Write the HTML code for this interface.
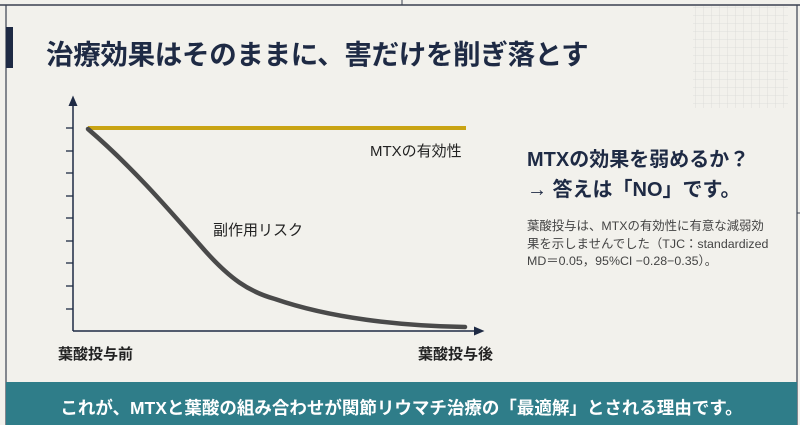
<!DOCTYPE html>
<html><head><meta charset="utf-8"><style>
body{margin:0;width:800px;height:425px;overflow:hidden;background:#f2f1ec;font-family:"Liberation Sans","Noto Sans CJK JP",sans-serif;position:relative}
.a{position:absolute;white-space:nowrap}
</style></head><body>
<svg class="a" style="left:0;top:0" width="800" height="425">
<defs><pattern id="g" width="8" height="8" patternUnits="userSpaceOnUse"><path d="M8 0V8M0 8H8" stroke="#d9d9d6" stroke-width="0.8" fill="none"/></pattern>
<marker id="ar" markerWidth="8" markerHeight="8" refX="4" refY="4" orient="auto"><path d="M0,1 L7,4 L0,7z" fill="#1e2a44"/></marker></defs>
<rect x="693" y="6" width="95" height="102" fill="url(#g)"/>
<line x1="0" y1="5" x2="800" y2="5" stroke="#3a4150" stroke-width="1.5"/>
<line x1="6" y1="5" x2="6" y2="425" stroke="#3a4150" stroke-width="1.2"/>
<line x1="402" y1="0" x2="402" y2="5" stroke="#3a4150" stroke-width="1"/>
<line x1="797" y1="5" x2="797" y2="425" stroke="#3a4150" stroke-width="1.2"/>
<line x1="797" y1="213" x2="800" y2="213" stroke="#3a4150" stroke-width="1"/>
<rect x="6" y="27" width="7" height="41" fill="#1e2a44"/>
<line x1="73" y1="331" x2="73" y2="100" stroke="#1e2a44" stroke-width="1.5" marker-end="url(#ar)"/>
<line x1="73" y1="331" x2="480" y2="331" stroke="#1e2a44" stroke-width="1.5" marker-end="url(#ar)"/>
<g stroke="#1e2a44" stroke-width="1.3"><line x1="66" x2="73" y1="128" y2="128"/><line x1="66" x2="73" y1="151" y2="151"/><line x1="66" x2="73" y1="173" y2="173"/><line x1="66" x2="73" y1="196" y2="196"/><line x1="66" x2="73" y1="218" y2="218"/><line x1="66" x2="73" y1="241" y2="241"/><line x1="66" x2="73" y1="263" y2="263"/><line x1="66" x2="73" y1="286" y2="286"/><line x1="66" x2="73" y1="309" y2="309"/></g>
<line x1="88" y1="128" x2="466" y2="128" stroke="#c9a414" stroke-width="4"/>
<path d="M88,129 C130,165 165,205 200,245 C230,280 250,292 275,299 C330,318 400,326 465,327" stroke="#4a4a4a" stroke-width="4.5" fill="none" stroke-linecap="round"/>
<rect x="6" y="382" width="791" height="43" fill="#2f7d89"/>
</svg>
<div class="a" style="left:46px;top:32px;font-size:27.5px;font-weight:bold;color:#1e2a44;letter-spacing:-0.3px">治療効果はそのままに、害だけを削ぎ落とす</div>
<div class="a" style="left:370px;top:140px;font-size:15px;color:#222">MTXの有効性</div>
<div class="a" style="left:213px;top:219px;font-size:15px;color:#222">副作用リスク</div>
<div class="a" style="left:58px;top:343px;font-size:15px;font-weight:bold;color:#222">葉酸投与前</div>
<div class="a" style="left:418px;top:343px;font-size:15px;font-weight:bold;color:#222">葉酸投与後</div>
<div class="a" style="left:527px;top:145px;font-size:20px;font-weight:bold;color:#1e2a44;line-height:30px">MTXの効果を弱めるか？<br>→ 答えは「NO」です。</div>
<div class="a" style="left:527px;top:218px;font-size:12.4px;color:#444;line-height:17.5px">葉酸投与は、MTXの有効性に有意な減弱効<br>果を示しませんでした（TJC：standardized<br>MD＝0.05，95%CI −0.28−0.35）。</div>
<div class="a" style="left:6px;width:791px;top:395px;text-align:center;font-size:17.5px;font-weight:bold;color:#fff">これが、MTXと葉酸の組み合わせが関節リウマチ治療の「最適解」とされる理由です。</div>
</body></html>
